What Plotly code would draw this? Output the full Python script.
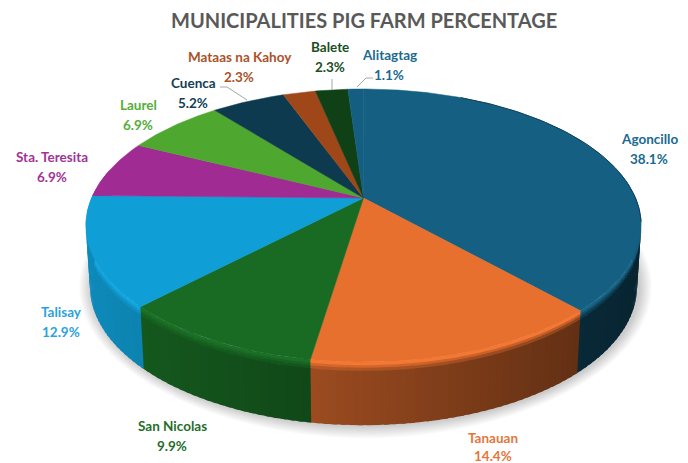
import numpy as np
import plotly.graph_objects as go

TITLE = "MUNICIPALITIES PIG FARM PERCENTAGE"

municipalities = ["Agoncillo", "Tanauan", "San Nicolas", "Talisay", "Sta. Teresita",
                  "Laurel", "Cuenca", "Mataas na Kahoy", "Balete", "Alitagtag"]
percentages = [38.1, 14.4, 9.9, 12.9, 6.9, 6.9, 5.2, 2.3, 2.3, 1.1]
slice_colors = ["#156082", "#E8702F", "#196B24", "#0F9ED5", "#A02B93",
                "#4EA72E", "#0D3A4E", "#A0471A", "#0F4016", "#145F81"]
text_colors = ["#1B6A8F", "#E5763A", "#1F6F2A", "#2CA3DC", "#A23396",
               "#55AD38", "#123F55", "#A9522A", "#1A4F22", "#1B6A8F"]

# label anchor points: name centre x, name centre y, percent centre x, percent centre y
label_anchors = [(649, 139, 649, 159), (493, 438, 493, 456), (172, 426, 172, 446),
                 (61, 312, 61, 332), (52, 157, 52, 177), (138, 105, 138, 125),
                 (193, 83, 193, 103), (240, 57, 239, 77), (330, 47, 330, 67),
                 (389, 55, 389, 75)]
leader_lines = [([220, 227, 247], [87, 87, 100]),
                ([332, 332], [79, 90]),
                ([357, 366, 373], [87, 78, 78])]

# perspective model of the disc
CX, CY, RX, RY, PERSP = 363.5, 198.0, 272.0, 131.0, 0.2016
DEPTH, BOTTOM_SX, BOTTOM_SY = 60.0, 0.985, 1.015


def top_edge(theta_deg):
    t = np.radians(theta_deg)
    u, v = np.sin(t), np.cos(t)
    w = 1 + PERSP * v
    return CX + RX * u / w, CY - RY * v / w


def bottom_edge(theta_deg):
    x, y = top_edge(theta_deg)
    return CX + BOTTOM_SX * (x - CX), CY + DEPTH + BOTTOM_SY * (y - CY)


def rgb(hex_color):
    return np.array([int(hex_color[i:i + 2], 16) for i in (1, 3, 5)], dtype=float)


def css(c):
    c = np.clip(c, 0, 255).round().astype(int)
    return f"rgb({c[0]},{c[1]},{c[2]})"


def side_factor(x):
    return 0.87 - 0.46 * (x - 90) / 510


def polygon(x, y, color, name=None, edge=0.0):
    return go.Scatter(x=x, y=y, mode="lines", fill="toself", fillcolor=color,
                      line=dict(color=color, width=edge),
                      hoverinfo="skip", showlegend=False, name=name)


total = sum(percentages)
edges = np.concatenate([[0], np.cumsum(percentages) / total * 360])
fig = go.Figure()

# soft ground shadow around the base of the disc
outline = np.linspace(0, 360, 241)
bx, by = bottom_edge(outline)
bcy = CY + DEPTH + 27
for grow in range(13, 0, -1):
    dx = bx - CX
    dy = by - bcy
    n = np.hypot(dx, dy)
    fig.add_trace(polygon(CX + 2 + dx * (1 + grow / n), bcy + 1 + dy * (1 + grow / n),
                          "rgba(0,0,0,0.016)"))

# outer wall, built from narrow shaded strips so the tone runs across the disc;
# each strip runs slightly under the next one to keep the joins closed
band = [0.0, 0.05, 0.09, 0.14, 1.0]
band_mix = [0.0, 0.35, 0.7, 1.0]
for name, start, end, color in zip(municipalities, edges[:-1], edges[1:], slice_colors):
    lo, hi = max(start, 78), min(end, 282)
    if hi <= lo:
        continue
    base = rgb(color)
    steps = max(1, int(np.ceil((hi - lo) / 1.5)))
    angles = np.linspace(lo, hi, steps + 1)
    for a0, a1 in zip(angles[:-1], angles[1:]):
        arc = np.linspace(a0, a1 + 0.8, 3)
        tx, ty = top_edge(arc)
        ux, uy = bottom_edge(arc)
        shade = side_factor(top_edge((a0 + a1) / 2)[0])
        wall = base * shade
        rim = base * 1.06
        for j, mix in enumerate(band_mix):
            t0, t1 = band[j], band[j + 1] + 0.01
            xs = np.concatenate([tx + (ux - tx) * t0, (tx + (ux - tx) * t1)[::-1]])
            ys = np.concatenate([ty + (uy - ty) * t0, (ty + (uy - ty) * t1)[::-1]])
            fig.add_trace(polygon(xs, ys, css(rim + (wall - rim) * mix), name=name))

# top face wedges
for name, start, end, color in zip(municipalities, edges[:-1], edges[1:], slice_colors):
    arc = np.linspace(start, end, max(3, int((end - start) * 1.5)))
    ax, ay = top_edge(arc)
    fig.add_trace(polygon(np.r_[CX, ax, CX], np.r_[CY, ay, CY], color, name=name, edge=0.5))

# thin dark edge along the far right rim of the largest wedge
rim_arc = np.linspace(25, 100, 60)
rx_line, ry_line = top_edge(rim_arc)
fig.add_trace(go.Scatter(x=rx_line, y=ry_line, mode="lines", line=dict(color="#0C3F58", width=1),
                         hoverinfo="skip", showlegend=False))

# leader lines
for lx, ly in leader_lines:
    fig.add_trace(go.Scatter(x=lx, y=ly, mode="lines", line=dict(color="#A6A6A6", width=1),
                             hoverinfo="skip", showlegend=False))

LABEL_FONT = "Lato, sans-serif"
annotations = []
for name, pct, col, (nx, ny, px, py) in zip(municipalities, percentages, text_colors, label_anchors):
    for text, x, y in ((f"<b>{name}</b>", nx, ny), (f"<b>{pct}%</b>", px, py)):
        annotations.append(dict(x=x, y=y, xref="x", yref="y", text=text, showarrow=False,
                                xanchor="center", yanchor="middle",
                                font=dict(family=LABEL_FONT, size=13.5, color=col)))
annotations.append(dict(x=363.5, y=19.5, xref="x", yref="y", text=f"<b>{TITLE}</b>", showarrow=False,
                        xanchor="center", yanchor="middle",
                        font=dict(family=LABEL_FONT, size=20, color="#595959")))

fig.update_layout(
    width=688, height=463, margin=dict(l=0, r=0, t=0, b=0),
    paper_bgcolor="white", plot_bgcolor="white", showlegend=False,
    xaxis=dict(range=[0, 688], visible=False, fixedrange=True),
    yaxis=dict(range=[463, 0], visible=False, fixedrange=True),
    annotations=annotations,
)
fig.write_html("out.html", config=dict(displayModeBar=False))
